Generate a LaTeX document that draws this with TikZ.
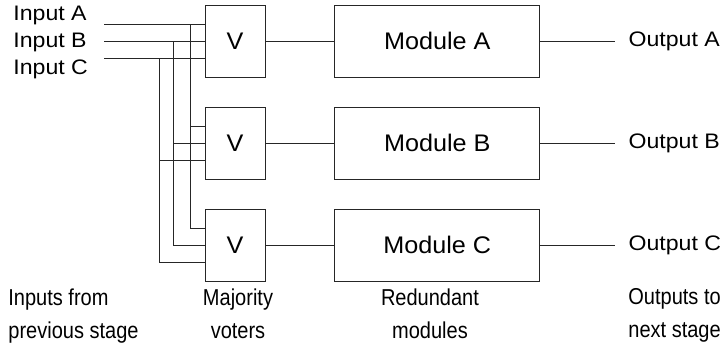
\documentclass[tikz,border=0pt]{standalone}
\usepackage{fontspec}
\setmainfont{Liberation Sans}
\newfontfamily\iofont[FakeStretch=1.1]{Liberation Sans}
\newfontfamily\boxfont[FakeStretch=1.05]{Liberation Sans}
\newfontfamily\capfont[FakeStretch=0.87]{Liberation Sans}
\usetikzlibrary{positioning}
\begin{document}
\begin{tikzpicture}[x=1pt, y=-1pt, line width=0.8pt, draw=black!85,
    voter/.style={draw, rectangle, minimum width=60pt, minimum height=72pt, font=\boxfont\fontsize{24}{28}\selectfont},
    module/.style={draw, rectangle, minimum width=205pt, minimum height=72pt, font=\boxfont\fontsize{24}{28}\selectfont},
    io/.style={inner sep=0pt, font=\iofont\fontsize{21}{25}\selectfont},
    caption/.style={inner sep=0pt, font=\capfont\fontsize{23}{33}\selectfont}]
        \useasboundingbox (0,0) rectangle (724,356);
        % voters and modules
        \node[voter] (vA) at (235,41) {V};
        \node[voter] (vB) at (235,143) {V};
        \node[voter] (vC) at (235,245) {V};
        \node[module, right=69pt of vA] (mA) {Module A};
        \node[module, right=69pt of vB] (mB) {Module B};
        \node[module, right=69pt of vC] (mC) {Module C};
        \draw (vA) -- (mA); \draw (vB) -- (mB); \draw (vC) -- (mC);
        % outputs
        \coordinate[right=75pt of mA.east] (oA); \node[io, right=13pt of oA] (outA) {Output A};
        \coordinate[right=75pt of mB.east] (oB); \node[io, right=13pt of oB] (outB) {Output B};
        \coordinate[right=75pt of mC.east] (oC); \node[io, right=13pt of oC] (outC) {Output C};
        \draw (mA) -- (oA); \draw (mB) -- (oB); \draw (mC) -- (oC);
        % inputs
        \node[io, anchor=west] (inA) at (13,15) {Input A};
        \node[io, anchor=west] (inB) at (13,42) {Input B};
        \node[io, anchor=west] (inC) at (13,69) {Input C};
        \coordinate (iA) at (104,24); \coordinate (iB) at (104,41); \coordinate (iC) at (104,58);
        \coordinate (busA) at (190,0); \coordinate (busB) at (173,0); \coordinate (busC) at (159,0);
        \draw (iA) -- ([yshift=17pt]vA.west);
        \draw (iB) -- (vA.west);
        \draw (iC) -- ([yshift=-17pt]vA.west);
        \draw (busA |- iA) |- ([yshift=17pt]vC.west);
        \draw (busB |- iB) |- (vC.west);
        \draw (busC |- iC) |- ([yshift=-17pt]vC.west);
        \draw ([yshift=17pt]vB.west -| busA) -- ([yshift=17pt]vB.west);
        \draw (vB.west -| busB) -- (vB.west);
        \draw ([yshift=-17pt]vB.west -| busC) -- ([yshift=-17pt]vB.west);
        % captions
        \node[caption, anchor=north west, align=left] (capIn) at (8,288) {Inputs from\\previous stage};
        \node[caption, anchor=north, align=center] (capV) at (238,288) {Majority\\voters};
        \node[caption, anchor=north, align=center] (capM) at (430,288) {Redundant\\modules};
        \node[caption, anchor=north west, align=left] (capOut) at (628,288) {Outputs to\\next stage};
\end{tikzpicture}
\end{document}
